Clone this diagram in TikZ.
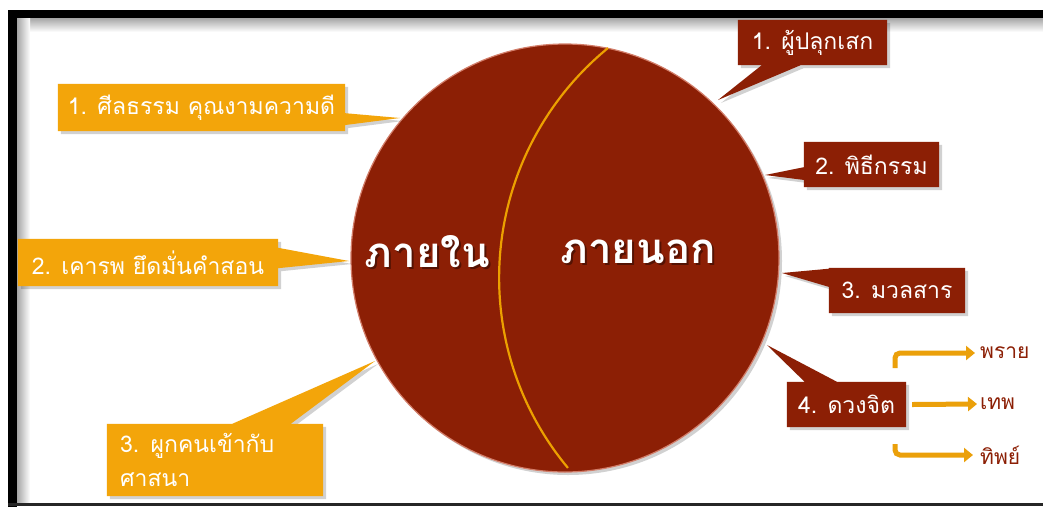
\documentclass[tikz,border=0pt]{standalone}
\usepackage{fontspec}
\newfontfamily\thai[Script=Thai]{Loma}
\usetikzlibrary{calc,shadows,arrows.meta,backgrounds}
\pgfdeclarelayer{callouts}
\pgfsetlayers{background,callouts,main}
\definecolor{dred}{RGB}{140,31,5}
\definecolor{orng}{RGB}{243,165,10}
\definecolor{arcor}{RGB}{236,160,0}
\definecolor{arrowor}{RGB}{235,160,10}
\definecolor{rim}{RGB}{210,125,105}
\begin{document}
\begin{tikzpicture}[x=1pt,y=-1pt,
  box/.style={inner sep=0pt, text=white, font=\thai\fontsize{23}{34}\selectfont},
  shad/.style={drop shadow={shadow xshift=3pt,shadow yshift=-3pt,opacity=0.18,fill=black}},
  lbl/.style={text=dred, font=\thai\fontsize{21}{25}\selectfont, inner sep=0pt, anchor=west},
  big/.style={text=white, font=\thai\bfseries\fontsize{42}{46}\selectfont, inner sep=0pt},
  bigshadow/.style={text=black, opacity=0.4, font=\thai\bfseries\fontsize{42}{46}\selectfont, inner sep=0pt},
  arr/.style={draw=arrowor, line width=5pt, -{Triangle[length=9pt,width=14pt]}, rounded corners=5pt},
]
\useasboundingbox (0,0) rectangle (1043,507);
\begin{pgfonlayer}{background}
\fill[white] (0,0) rectangle (1043,507);
% frame with inner shadow
\shade[top color=black!35, bottom color=white] (17,18) rectangle (1043,32);
\shade[left color=black!35, right color=white] (17,18) rectangle (30,503);
\fill[black] (8,10) rectangle (1043,18);
\fill[black] (8,10) rectangle (17,507);
\fill[black!85] (8,503) rectangle (1043,506);
% circle
\node[circle, fill=dred, minimum size=428pt, inner sep=0pt, draw=rim, line width=1.2pt, shad] (c) at (565,258) {};
\coordinate (arcA) at (608,48);
\draw[arcor, line width=2.2pt] (arcA) arc[start angle=230.7, end angle=140.2, radius=297];
\end{pgfonlayer}

% centre texts
\node[bigshadow] at (429.5,254) {ภายใน};
\node[big] (inner) at (427.5,252) {ภายใน};
\node[bigshadow] at (640,254) {ภายนอก};
\node[big] (outer) at (638,252) {ภายนอก};

% callout boxes (text)
\node[box, minimum width=287pt, minimum height=47pt] (l1) at (201.5,107.5) {1. ศีลธรรม คุณงามความดี};
\node[box, minimum width=260pt, minimum height=47pt] (l2) at (148,262.5) {2. เคารพ ยึดมั่นคำสอน};
\node[box, minimum width=216pt, minimum height=72pt, text width=190pt, inner xsep=13pt, align=left] (l3) at (215,460) {3. ผูกคนเข้ากับ\\ศาสนา};
\node[box, minimum width=149pt, minimum height=45pt] (r1) at (812.5,42.5) {1. ผู้ปลุกเสก};
\node[box, minimum width=135pt, minimum height=45pt] (r2) at (871.5,164.5) {2. พิธีกรรม};
\node[box, minimum width=136pt, minimum height=45pt] (r3) at (897,290.5) {3. มวลสาร};
\node[box, minimum width=119pt, minimum height=45pt] (r4) at (846.5,404.5) {4. ดวงจิต};

% pointer tips
\coordinate (t1) at (400,118);
\coordinate (t2) at (349,261);
\coordinate (t3) at (375,361);
\coordinate (s1) at (718,100);
\coordinate (s2) at (765,175);
\coordinate (s3) at (782,273);
\coordinate (s4) at (767,345);

\begin{pgfonlayer}{callouts}
\fill[orng, shad] (l1.north west) -- (l1.north east) -- ($(l1.north east)!0.62!(l1.south east)$) -- (t1) -- ($(l1.north east)!0.87!(l1.south east)$) -- (l1.south east) -- (l1.south west) -- cycle;
\fill[orng, shad] (l2.north west) -- (l2.north east) -- ($(l2.north east)!0.19!(l2.south east)$) -- (t2) -- ($(l2.north east)!0.62!(l2.south east)$) -- (l2.south east) -- (l2.south west) -- cycle;
\fill[orng, shad] (l3.north west) -- ($(l3.north west)!0.58!(l3.north east)$) -- (t3) -- ($(l3.north west)!0.85!(l3.north east)$) -- (l3.north east) -- (l3.south east) -- (l3.south west) -- cycle;
\fill[dred, shad] (r1.north west) -- (r1.north east) -- (r1.south east) -- ($(r1.south west)!0.42!(r1.south east)$) -- (s1) -- ($(r1.south west)!0.16!(r1.south east)$) -- (r1.south west) -- cycle;
\fill[dred, shad] (r2.north west) -- (r2.north east) -- (r2.south east) -- (r2.south west) -- ($(r2.north west)!0.84!(r2.south west)$) -- (s2) -- ($(r2.north west)!0.56!(r2.south west)$) -- cycle;
\fill[dred, shad] (r3.north west) -- (r3.north east) -- (r3.south east) -- (r3.south west) -- ($(r3.north west)!0.42!(r3.south west)$) -- (s3) -- ($(r3.north west)!0.02!(r3.south west)$) -- cycle;
\fill[dred, shad] (r4.north west) -- ($(r4.north west)!0.15!(r4.north east)$) -- (s4) -- ($(r4.north west)!0.42!(r4.north east)$) -- (r4.north east) -- (r4.south east) -- (r4.south west) -- cycle;
\end{pgfonlayer}

% sub labels and arrows
\node[lbl] (pray) at (980,353) {พราย};
\node[lbl] (thep) at (980,404) {เทพ};
\node[lbl] (thip) at (980,455) {ทิพย์};
\coordinate (a1) at (895,368);
\coordinate (a3) at (895,444);
\draw[arr] (a1) |- ([xshift=-5pt]pray.west);
\draw[arr] ([xshift=6pt]r4.east) -- ([xshift=-3pt]thep.west);
\draw[arr] (a3) |- ([xshift=-7pt]thip.west);
\end{tikzpicture}
\end{document}
